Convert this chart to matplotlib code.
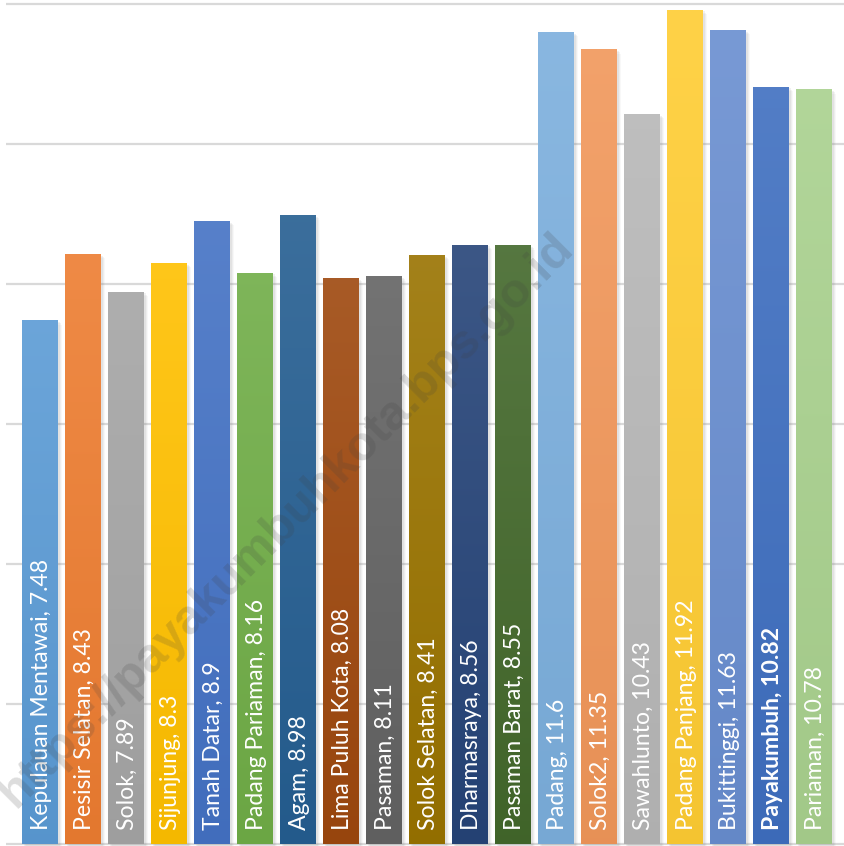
import numpy as np
import matplotlib
matplotlib.use("Agg")
import matplotlib.pyplot as plt
import matplotlib.colors as mcolors
from matplotlib.patches import Rectangle

# data
regions = ["Kepulauan Mentawai", "Pesisir Selatan", "Solok", "Sijunjung", "Tanah Datar",
           "Padang Pariaman", "Agam", "Lima Puluh Kota", "Pasaman", "Solok Selatan",
           "Dharmasraya", "Pasaman Barat", "Padang", "Solok2", "Sawahlunto",
           "Padang Panjang", "Bukittinggi", "Payakumbuh", "Pariaman"]
values = [7.48, 8.43, 7.89, 8.3, 8.9, 8.16, 8.98, 8.08, 8.11, 8.41,
          8.56, 8.55, 11.6, 11.35, 10.43, 11.92, 11.63, 10.82, 10.78]
bar_colors = ["#5B9BD5", "#ED7D31", "#A5A5A5", "#FFC000", "#4472C4", "#70AD47",
              "#255E91", "#9E480E", "#636363", "#997300", "#264478", "#43682B",
              "#7CAFDD", "#F1975A", "#B7B7B7", "#FFCD33", "#698ED0", "#3F6FC0", "#A9D18E"]
highlight = "Payakumbuh"
watermark = "https://payakumbuhkota.bps.go.id"


def mix(c, other, t):
    a = np.array(mcolors.to_rgb(c))
    b = np.array(mcolors.to_rgb(other))
    return tuple(a * (1 - t) + b * t)


fig = plt.figure(figsize=(8.45, 8.46), dpi=100)
ax = fig.add_axes([6 / 845, 0, 839 / 845, 1])
ax.set_axis_off()

# gridlines
for g in range(0, 13, 2):
    ax.axhline(g, color="#D9D9D9", lw=1.6, zorder=0)

width = 36 / 43
x = np.arange(len(regions))
bars = ax.bar(x, values, width=width, color="none", zorder=3)

for i, (b, c) in enumerate(zip(bars, bar_colors)):
    x0, w, h = b.get_x(), b.get_width(), b.get_height()
    # soft shadow
    for k, a in enumerate([0.10, 0.08, 0.05]):
        off = 0.04 + 0.03 * k
        ax.add_patch(Rectangle((x0 + off, -0.1), w, h + 0.1 - off * 0.6,
                               color="#7F7F7F", alpha=a, lw=0, zorder=2))
    # gradient fill, lighter at top
    top = mix(c, "white", 0.10)
    bot = mix(c, "black", 0.04)
    grad = np.linspace(0, 1, 64)
    img = np.array([mix(bot, top, t) for t in grad])[:, None, :]
    im = ax.imshow(img, extent=(x0, x0 + w, 0, h), origin="lower",
                   aspect="auto", zorder=3, interpolation="bicubic")
    clip = Rectangle((x0, 0), w, h, transform=ax.transData)
    im.set_clip_path(clip)

ax.set_xlim((6 - 40) / 43, (845 - 40) / 43)
ax.set_ylim(-2 / 70, 12 + 4 / 70)

# labels inside bars
for i, (r, v) in enumerate(zip(regions, values)):
    ax.text(i + 0.04, 0.2, f"{r}, {v:g}", rotation=90, ha="center", va="bottom",
            color="white", fontsize=16.6, family="Lato",
            fontweight="bold" if r == highlight else "normal", zorder=5)

# watermark
fig.text(286 / 845, 1 - 520 / 846, watermark, rotation=45, ha="center", va="center",
         fontsize=35, fontweight="bold", family="Liberation Sans",
         color="#404040", alpha=0.18, zorder=10)

plt.savefig("out.png", dpi=100)
